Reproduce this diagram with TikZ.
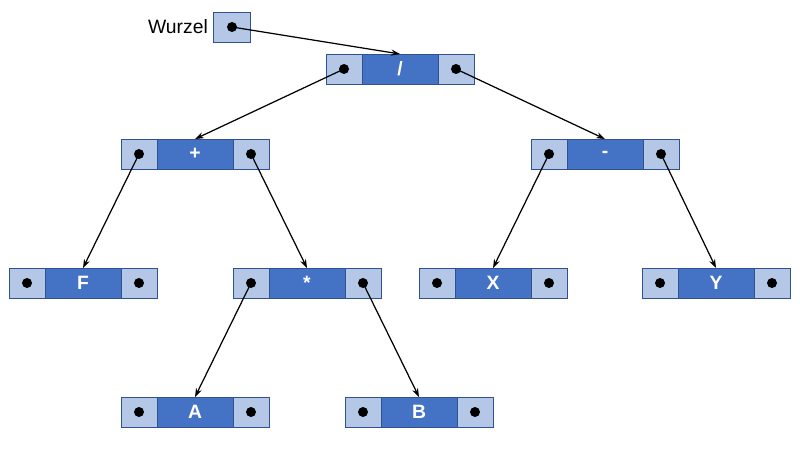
\documentclass[tikz,border=0pt]{standalone}
\usepackage{fontspec}
\setmainfont{Liberation Sans}
\usetikzlibrary{positioning, arrows.meta}
\definecolor{cellblue}{HTML}{B4C7E7}
\definecolor{keyblue}{HTML}{4472C4}
\definecolor{edgeblue}{HTML}{2F528F}
\tikzset{
    cell/.style={draw=edgeblue, fill=cellblue, minimum width=0.72cm, minimum height=0.6cm, inner sep=0pt, outer sep=0pt},
    key/.style={cell, fill=keyblue, minimum width=1.52cm, text=white, font=\fontsize{11}{13}\selectfont\bfseries},
    ptr/.style={-{Stealth[length=5pt,width=3.5pt]}, line width=0.7pt},
}
% Knoten: Name, x, y, Inhalt
\newcommand{\knoten}[4]{%
    \node[key] (#1) at (#2,#3) {#4};
    \node[cell, left=0pt of #1] (#1-l) {};
    \node[cell, right=0pt of #1] (#1-r) {};
    \fill (#1-l.center) circle (0.1cm) (#1-r.center) circle (0.1cm);
}

\begin{document}
\begin{tikzpicture}[x=0.02cm, y=-0.02cm]
                 \useasboundingbox (0,0) rectangle (800,450);
                 \node[cell, minimum width=0.74cm] (wurzel) at (232,27) {};
                 \fill (wurzel.center) circle (0.1cm);
                 \node[left=1pt of wurzel, inner sep=2pt, font=\fontsize{11}{13}\selectfont] (wurzeltext) {Wurzel};
                 \knoten{root}{400}{69}{/}
                 \knoten{plus}{195}{154}{+}
                 \knoten{minus}{605}{154}{-}
                 \knoten{F}{83}{283}{F}
                 \knoten{mul}{307}{283}{*}
                 \knoten{X}{493}{283}{X}
                 \knoten{Y}{716}{283}{Y}
                 \knoten{A}{195}{412}{A}
                 \knoten{B}{419}{412}{B}
                 \draw[ptr] (wurzel.center) -- (root.north);
                 \draw[ptr] (root-l.center) -- (plus.north);
                 \draw[ptr] (root-r.center) -- (minus.north);
                 \draw[ptr] (plus-l.center) -- (F.north);
                 \draw[ptr] (plus-r.center) -- (mul.north);
                 \draw[ptr] (mul-l.center) -- (A.north);
                 \draw[ptr] (mul-r.center) -- (B.north);
                 \draw[ptr] (minus-l.center) -- (X.north);
                 \draw[ptr] (minus-r.center) -- (Y.north);
             \end{tikzpicture}
\end{document}
